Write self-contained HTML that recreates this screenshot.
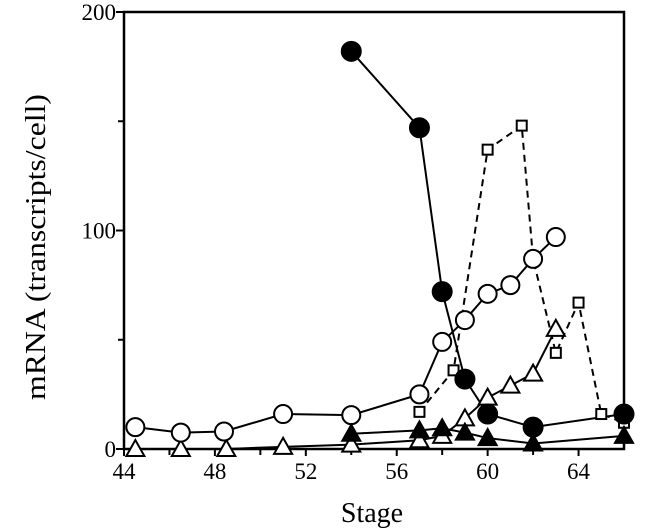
<!DOCTYPE html>
<html><head><meta charset="utf-8"><style>
html,body{margin:0;padding:0;background:#fff;}
svg{display:block;font-family:"Liberation Serif",serif;}
</style></head><body>
<svg id="chart" width="645" height="531" viewBox="0 0 645 531" xmlns="http://www.w3.org/2000/svg">
<g id="axes"></g>
<g id="series"></g>
<text x="0" y="0" transform="translate(45,247) rotate(-90)" text-anchor="middle" font-size="28" textLength="306" lengthAdjust="spacingAndGlyphs">mRNA (transcripts/cell)</text>
<text x="372" y="522" text-anchor="middle" font-size="28">Stage</text>
</svg>
<script>
const xTicks = [44, 48, 52, 56, 60, 64];
const xMinor = [46, 50, 54, 58, 62];
const yTicks = [0, 100, 200];
const yMinor = [50, 150];
const filledCircleX = [54, 57, 58, 59, 60, 62, 66];
const filledCircleY = [182, 147, 72, 32, 16, 10, 16];
const openCircleX = [44.5, 46.5, 48.4, 51, 54, 57, 58, 59, 60, 61, 62, 63];
const openCircleY = [10, 7.5, 8, 16, 15.5, 25, 49, 59, 71, 75, 87, 97];
const openSquareX = [57, 58.5, 60, 61.5, 62, 63, 64, 65, 66];
const openSquareY = [17, 36, 137, 148, 87, 44, 67, 16, 12];
const openTriX = [44.5, 46.5, 48.5, 51, 54, 57, 58, 59, 60, 61, 62, 63];
const openTriY = [0, 0, 0, 1, 2, 4, 6, 14, 23.5, 29, 34.5, 55];
const filledTriX = [54, 57, 58, 59, 60, 62, 66];
const filledTriY = [7, 8.5, 9.5, 7.5, 5, 2.5, 6];

const X0=124, X1=624, Y0=449, Y1=12;
const sx = v => X0 + (v-44)*(X1-X0)/22;
const sy = v => Y0 - v*(Y0-Y1)/200;
const NS="http://www.w3.org/2000/svg";
function mk(tag, attrs, parent){const e=document.createElementNS(NS,tag);for(const k in attrs)e.setAttribute(k,attrs[k]);parent.appendChild(e);return e;}
const axes=document.getElementById('axes'), ser=document.getElementById('series');

const frame=mk('rect',{x:X0,y:Y1,width:X1-X0,height:Y0-Y1,fill:'none',stroke:'#000','stroke-width':2.5},axes);


xTicks.forEach(v=>{
  const t=mk('line',{x1:sx(v),x2:sx(v),y1:Y0,y2:Y0+7,stroke:'#000','stroke-width':2},axes);
  
  
  const l=mk('text',{x:sx(v),y:479,'text-anchor':'middle','font-size':23},axes);
  l.textContent=v;
  
  
});
xMinor.forEach(v=>{
  const t=mk('line',{x1:sx(v),x2:sx(v),y1:Y0,y2:Y0+6,stroke:'#000','stroke-width':2},axes);
  
  
});
yTicks.forEach(v=>{
  const t=mk('line',{x1:X0-8,x2:X0,y1:sy(v),y2:sy(v),stroke:'#000','stroke-width':2},axes);
  
  
  const l=mk('text',{x:X0-8,y:sy(v)+8,'text-anchor':'end','font-size':23},axes);
  l.textContent=v;
  
  
});
yMinor.forEach(v=>{
  const t=mk('line',{x1:X0-6,x2:X0,y1:sy(v),y2:sy(v),stroke:'#000','stroke-width':2},axes);
  
  
});

function line(xs,ys,name,dash){
  const p=mk('polyline',{points:xs.map((x,i)=>sx(x)+','+sy(ys[i])).join(' '),fill:'none',stroke:'#000','stroke-width':2,'stroke-dasharray':dash||'none'},ser);
  
  
}
function markers(xs,ys,kind,fill,name){
  xs.forEach((x,i)=>{
    const cx=sx(x), cy=sy(ys[i]); let m;
    if(kind==='circle') m=mk('circle',{cx:cx,cy:cy,r:fill==='#000'?9.5:9,fill:fill,stroke:'#000','stroke-width':2},ser);
    else if(kind==='square') m=mk('rect',{x:cx-5,y:cy-5,width:10,height:10,fill:fill,stroke:'#000','stroke-width':2},ser);
    else m=mk('polygon',{points:`${cx},${cy-9} ${cx-9},${cy+7} ${cx+9},${cy+7}`,fill:fill,stroke:'#000','stroke-width':2},ser);
    
    
  });
}
line(openTriX,openTriY,'open-triangle-line');
line(openSquareX,openSquareY,'open-square-line','7,5');
line(openCircleX,openCircleY,'open-circle-line');
line(filledTriX,filledTriY,'filled-triangle-line');
line(filledCircleX,filledCircleY,'filled-circle-line');
markers(openTriX,openTriY,'tri','#fff','open-triangle-point');
markers(openSquareX,openSquareY,'square','#fff','open-square-point');
markers(openCircleX,openCircleY,'circle','#fff','open-circle-point');
markers(filledTriX,filledTriY,'tri','#000','filled-triangle-point');
markers(filledCircleX,filledCircleY,'circle','#000','filled-circle-point');
</script>
</body></html>
